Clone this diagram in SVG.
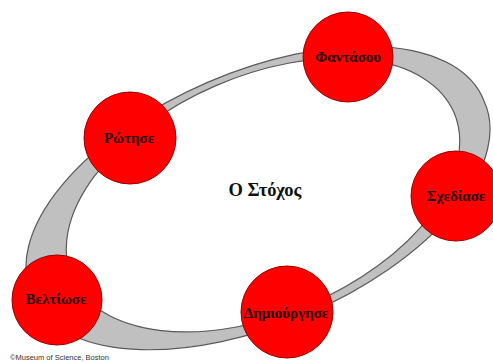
<svg xmlns="http://www.w3.org/2000/svg" width="493" height="363" viewBox="0 0 493 363">
<style>
.ring{fill:#c0c0c0;stroke:#5a5a5a;stroke-width:1.2;fill-rule:evenodd}
.node circle{fill:#ff0000;stroke:#9a0000;stroke-width:1}
.node text{font-family:"Liberation Serif","Times New Roman",serif;font-weight:bold;font-size:15px;fill:#1a0000;text-anchor:middle}
.title{font-family:"Liberation Serif","Times New Roman",serif;font-weight:bold;font-size:18.5px;fill:#111;text-anchor:middle}
.copy{font-family:"Liberation Sans",Arial,sans-serif;font-size:7.5px;fill:#333}
</style>
<rect width="493" height="363" fill="#ffffff"/>
<g id="connectors">
<path class="ring" d="M483.9,100.7 A246,124 -23.3 1 0 32.1,295.3 A246,124 -23.3 1 0 483.9,100.7 Z M454,112.6 A208,119 -23.35 1 0 72,277.4 A208,119 -23.35 1 0 454,112.6 Z"/>
</g>
<text class="title" x="265" y="196">Ο Στόχος</text>
<g id="node-fantasou" class="node">
<circle cx="348" cy="57" r="45"/>
<text x="348" y="62">Φαντάσου</text>
</g>
<g id="node-rotise" class="node">
<circle cx="130" cy="138" r="46"/>
<text x="129" y="143">Ρώτησε</text>
</g>
<g id="node-schediase" class="node">
<circle cx="456" cy="196" r="45"/>
<text x="456" y="201">Σχεδίασε</text>
</g>
<g id="node-dimiourgise" class="node">
<circle cx="287" cy="312" r="46"/>
<text x="286" y="318">Δημιούργησε</text>
</g>
<g id="node-veltiose" class="node">
<circle cx="57" cy="300" r="45"/>
<text x="56" y="304">Βελτίωσε</text>
</g>
<text class="copy" x="10" y="360">©Museum of Science, Boston</text>
</svg>
